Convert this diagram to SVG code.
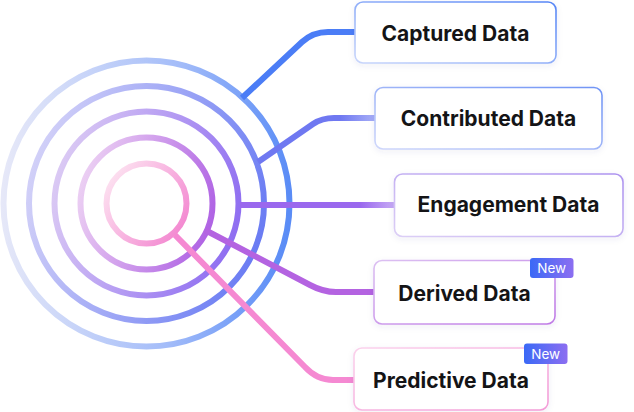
<svg xmlns="http://www.w3.org/2000/svg" width="634" height="412" viewBox="0 0 634 412">
<defs>
<style>
.ring{fill:none;stroke-width:6}
.conn{fill:none;stroke-width:6;stroke-linecap:butt;stroke-linejoin:round}
.box{fill:#ffffff;stroke-width:1.6}
.label{font-family:Inter,"Liberation Sans",sans-serif;font-weight:700;font-size:21px;fill:#141416;text-anchor:middle}
.badge{fill:url(#gBadge)}
.badgeText{font-family:Inter,"Liberation Sans",sans-serif;font-weight:400;font-size:13.5px;fill:#ffffff;text-anchor:middle}
</style>
<linearGradient id="gR1" x1="0" y1="0.1" x2="1" y2="0.8"><stop offset="0" stop-color="#fde6f2"/><stop offset="1" stop-color="#f387d0"/></linearGradient>
<linearGradient id="gR2" x1="0" y1="0.3" x2="1" y2="0.6"><stop offset="0" stop-color="#ecd0f3"/><stop offset="1" stop-color="#b064e4"/></linearGradient>
<linearGradient id="gR3" x1="0" y1="0.3" x2="1" y2="0.6"><stop offset="0" stop-color="#dccbf4"/><stop offset="1" stop-color="#8f6ef1"/></linearGradient>
<linearGradient id="gR4" x1="0" y1="0.3" x2="1" y2="0.6"><stop offset="0" stop-color="#d4d2f8"/><stop offset="1" stop-color="#6a7cf3"/></linearGradient>
<linearGradient id="gR5" x1="0" y1="0.4" x2="1" y2="0.45"><stop offset="0" stop-color="#e6e8f8"/><stop offset="0.6" stop-color="#a3bcf9"/><stop offset="1" stop-color="#5a8cf6"/></linearGradient>
<linearGradient id="gB1" x1="0" y1="1" x2="1" y2="0"><stop offset="0" stop-color="#c9d6fb"/><stop offset="1" stop-color="#5585f6"/></linearGradient>
<linearGradient id="gB2" x1="0" y1="1" x2="1" y2="0"><stop offset="0" stop-color="#cfd7fb"/><stop offset="1" stop-color="#7094f5"/></linearGradient>
<linearGradient id="gB3" x1="0" y1="1" x2="1" y2="0"><stop offset="0" stop-color="#dccff6"/><stop offset="1" stop-color="#ad93ef"/></linearGradient>
<linearGradient id="gB4" x1="0" y1="0" x2="1" y2="1"><stop offset="0" stop-color="#dcc0f2"/><stop offset="1" stop-color="#bf7ae6"/></linearGradient>
<linearGradient id="gB5" x1="0" y1="0" x2="1" y2="1"><stop offset="0" stop-color="#fbd2ec"/><stop offset="1" stop-color="#f39bd7"/></linearGradient>
<linearGradient id="gBadge" x1="0" y1="0" x2="1" y2="0"><stop offset="0" stop-color="#3a69f6"/><stop offset="1" stop-color="#8c6ef1"/></linearGradient>
<linearGradient id="gC2" gradientUnits="userSpaceOnUse" x1="340" y1="0" x2="376" y2="0"><stop offset="0" stop-color="#6f78f1"/><stop offset="1" stop-color="#a9b0f7"/></linearGradient>
<linearGradient id="gC3" gradientUnits="userSpaceOnUse" x1="360" y1="0" x2="395" y2="0"><stop offset="0" stop-color="#9a68ee"/><stop offset="1" stop-color="#c8acf5"/></linearGradient>
<filter id="sh" x="-10%" y="-20%" width="120%" height="150%"><feDropShadow dx="0" dy="2" stdDeviation="3" flood-color="#3a3a7a" flood-opacity="0.07"/></filter>
</defs>
<g id="target">
<circle class="ring" cx="146.5" cy="203.5" r="143" stroke="url(#gR5)"/>
<circle class="ring" cx="146.5" cy="203.5" r="117.5" stroke="url(#gR4)"/>
<circle class="ring" cx="146.5" cy="203.5" r="92" stroke="url(#gR3)"/>
<circle class="ring" cx="146.5" cy="203.5" r="66" stroke="url(#gR2)"/>
<circle class="ring" cx="146.5" cy="203.5" r="40" stroke="url(#gR1)"/>
</g>
<g id="connectors">
<path class="conn" stroke="#4b7df6" d="M242,98 L302,42 Q313,32 328,32 L356,32"/>
<path class="conn" stroke="url(#gC2)" d="M258,162 L313,124 Q322,118 334,118 L376,118"/>
<path class="conn" stroke="url(#gC3)" d="M240,205 L395,205"/>
<path class="conn" stroke="#b463e1" d="M205,230 L310,285 Q323,292 336,292 L375,292"/>
<path class="conn" stroke="#f589d2" d="M175,235 L305,367 Q317,380 333,380 L355,380"/>
</g>
<g id="node-captured">
<rect class="box" filter="url(#sh)" x="355" y="2" width="201" height="61" rx="8" stroke="url(#gB1)"/>
<text class="label" x="455.5" y="40.5">Captured Data</text>
</g>
<g id="node-contributed">
<rect class="box" filter="url(#sh)" x="375" y="87.5" width="227" height="61.5" rx="8" stroke="url(#gB2)"/>
<text class="label" x="488.5" y="126">Contributed Data</text>
</g>
<g id="node-engagement">
<rect class="box" filter="url(#sh)" x="394.5" y="174" width="228.5" height="62.5" rx="8" stroke="url(#gB3)"/>
<text class="label" x="508.5" y="212.3">Engagement Data</text>
</g>
<g id="node-derived">
<rect class="box" filter="url(#sh)" x="374" y="260.5" width="181" height="63.5" rx="8" stroke="url(#gB4)"/>
<text class="label" x="464.5" y="300.7">Derived Data</text>
<rect class="badge" x="530" y="258" width="43.5" height="20" rx="3"/>
<text class="badgeText" x="551.7" y="273">New</text>
</g>
<g id="node-predictive">
<rect class="box" filter="url(#sh)" x="354" y="348" width="194" height="62" rx="8" stroke="url(#gB5)"/>
<text class="label" x="451" y="387.7">Predictive Data</text>
<rect class="badge" x="524" y="343.5" width="43.5" height="20.5" rx="3"/>
<text class="badgeText" x="545.7" y="358.7">New</text>
</g>
</svg>
